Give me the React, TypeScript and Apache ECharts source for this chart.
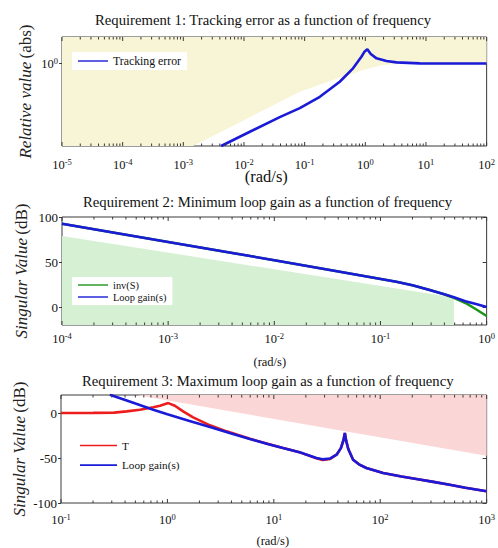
import { useEffect, useRef } from 'react';
import * as echarts from 'echarts';

const FONT = '"Liberation Serif", "Times New Roman", serif';
const AXIS = '#3a3a3a';
const TEXT = '#111';
const BLUE = '#1a1ad8';
const RED = '#ee1d1d';
const GREEN = '#1e961e';

// Requirement 1: tracking error (relative, abs) vs frequency (rad/s)
const trackFreq = [0.0042, 0.0125, 0.0389, 0.0832, 0.178, 0.379, 0.628, 0.863, 0.96, 1.08, 1.23, 1.53, 2.23, 3.26, 7.9, 20, 100];
const trackErr = [0.002, 0.00585, 0.0176, 0.0348, 0.0815, 0.253, 0.697, 1.67, 2.38, 2.92, 2.05, 1.48, 1.21, 1.09, 1.016, 1.0, 1.0];
// allowed tracking error: everything above this curve is shaded
const trackBoundFreq = [1e-5, 0.00144, 0.0125, 0.0832, 0.294, 1.045, 1.96, 3.7, 11.5, 100];
const trackBound = [0.002, 0.002, 0.0175, 0.119, 0.288, 0.66, 0.893, 0.963, 0.985, 0.99];

// Requirement 2: minimum loop gain (dB)
const minFreq = [1e-4, 1e-3, 1e-2, 0.0355, 0.141, 0.2, 0.291, 0.398, 0.492, 0.631, 0.794, 1];
const minLoopGain = [92.5, 72.3, 52, 40.6, 28, 24.2, 19, 14.2, 10.8, 6.5, 3.3, 0];
const invS = [92.5, 72.3, 52, 40.6, 28, 24.2, 19, 14.2, 10.3, 4.5, -2.5, -10];
const minBoundFreq = [1e-4, 0.492, 0.492];
const minBound = [79, 10.5, -20];

// Requirement 3: maximum loop gain (dB)
const maxLoopFreq = [0.288, 0.501, 0.736, 1, 1.585, 2.512, 3.98, 5.96, 8.91, 12.2, 17.8, 25.1, 28.8, 33.9, 38.9, 42.7, 45.2, 46.5, 47.9, 50.1, 55.6, 63.1, 74.1, 106.4, 158.5, 218.8, 316.2, 449.8, 631, 1000];
const maxLoopGain = [20.3, 10.5, 3.7, -1.3, -8.5, -15.5, -22.7, -28.9, -34.6, -38.9, -44, -50, -51.5, -50.5, -46.3, -39, -30, -22.2, -31, -40, -51.9, -57, -61.1, -66.7, -70.5, -73.3, -76.5, -79.7, -83, -87];
const tFreq = [0.1, 0.2, 0.316, 0.414, 0.552, 0.736, 0.851, 1.02, 1.175, 1.406, 1.746, 2.512, 3.6, 5.96, 8.91, 12.2, 17.8, 25.1, 28.8, 33.9, 38.9, 42.7, 45.2, 46.5, 47.9, 50.1, 55.6, 63.1, 74.1, 106.4, 158.5, 218.8, 316.2, 449.8, 631, 1000];
const tGain = [0, 0.1, 0.4, 1.8, 3.7, 6.3, 8.1, 11, 8.1, 1.8, -4.8, -13.7, -20.4, -28.7, -34.5, -38.8, -44, -50.3, -52.3, -51, -46.3, -39, -30, -22.2, -31, -40, -51.9, -57, -61.1, -66.7, -70.5, -73.3, -76.5, -79.7, -83, -87];
const maxBoundFreq = [0.1, 0.513, 1000];
const maxBound = [20, 20, -47.5];

const zip = (xs: number[], ys: number[]) => xs.map((x, i) => [x, ys[i]]);

// decade ticks (major) and 2..9 ticks (minor) of a log axis
function logTicks(lo: number, hi: number) {
  const major: number[] = [];
  const minor: number[] = [];
  for (let e = lo; e <= hi; e++) {
    major.push(Math.pow(10, e));
    if (e < hi) for (let k = 2; k <= 9; k++) minor.push(k * Math.pow(10, e));
  }
  return { major, minor };
}

const pow10 = (v: number) => `{b|10}{s|${Math.round(Math.log10(v))}}`;
const powRich = {
  b: { fontFamily: FONT, fontSize: 12.5, color: TEXT, lineHeight: 14, verticalAlign: 'bottom' },
  s: { fontFamily: FONT, fontSize: 8.5, color: TEXT, lineHeight: 9, verticalAlign: 'top' },
};

function logXAxis(grid: number, lo: number, hi: number, margin: number, nameGap: number, nameSize: number, shiftLeft: number) {
  return {
    gridIndex: grid,
    type: 'log',
    logBase: 10,
    min: Math.pow(10, lo),
    max: Math.pow(10, hi),
    axisLine: { show: false },
    axisTick: { show: false },
    splitLine: { show: false },
    axisLabel: { formatter: pow10, rich: powRich, margin },
    name: '(rad/s)',
    nameLocation: 'middle',
    nameGap,
    nameMoveOverlap: false,
    nameTextStyle: { fontFamily: FONT, fontSize: nameSize, color: TEXT, padding: [0, shiftLeft * 2, 0, 0] },
  };
}

function yName(italic: string, plain: string, size: number) {
  return {
    name: `{i|${italic}} {n|${plain}}`,
    nameLocation: 'middle',
    nameRotate: 90,
    nameMoveOverlap: false,
    nameTextStyle: {
      rich: {
        i: { fontFamily: FONT, fontSize: size, fontStyle: 'italic', color: '#222' },
        n: { fontFamily: FONT, fontSize: size, color: '#222' },
      },
    },
  };
}

function dbYAxis(grid: number, min: number, max: number, labels: number[], nameGap: number) {
  return {
    gridIndex: grid,
    type: 'value',
    min,
    max,
    axisLine: { show: false },
    axisTick: { show: true, inside: false, length: 3, customValues: labels, lineStyle: { color: AXIS } },
    splitLine: { show: false },
    axisLabel: { customValues: labels, margin: 4, fontFamily: FONT, fontSize: 13, color: TEXT },
    ...yName('Singular Value', '(dB)', 17),
    nameGap,
  };
}

function rightYAxis(grid: number, min: number, max: number, labels: number[]) {
  return {
    gridIndex: grid,
    type: 'value',
    position: 'right',
    min,
    max,
    axisLine: { show: false },
    axisTick: { show: true, inside: true, length: 4, customValues: labels, lineStyle: { color: AXIS } },
    axisLabel: { show: false },
    splitLine: { show: false },
  };
}

// x-axis tick marks on the bottom and top edges, drawn over the shaded areas
function tickSeries(xIdx: number, yIdx: number, yLo: number, yHi: number, lo: number, hi: number) {
  const { major, minor } = logTicks(lo, hi);
  const data = [...major.map((v) => [v, yLo, 1]), ...minor.map((v) => [v, yLo, 0])];
  return {
    type: 'custom',
    xAxisIndex: xIdx,
    yAxisIndex: yIdx,
    silent: true,
    clip: false,
    z: 6,
    encode: { x: 0, y: 1 },
    data,
    renderItem: (_p: any, api: any) => {
      const x = api.value(0);
      const len = api.value(2) ? 4 : 2.5;
      const b = api.coord([x, yLo]);
      const t = api.coord([x, yHi]);
      return {
        type: 'group',
        children: [
          { type: 'line', shape: { x1: b[0], y1: b[1], x2: b[0], y2: b[1] - len }, style: { stroke: AXIS, lineWidth: 1 } },
          { type: 'line', shape: { x1: t[0], y1: t[1], x2: t[0], y2: t[1] + len }, style: { stroke: AXIS, lineWidth: 1 } },
        ],
      };
    },
  };
}

function curve(name: string, x: number, y: number, data: number[][], color: string) {
  return {
    name,
    type: 'line',
    xAxisIndex: x,
    yAxisIndex: y,
    data,
    symbol: 'none',
    showSymbol: false,
    clip: true,
    z: 3,
    lineStyle: { color, width: 2.6 },
    itemStyle: { color },
  };
}

function shade(x: number, y: number, data: number[][], color: string, origin: 'start' | 'end') {
  return {
    type: 'line',
    xAxisIndex: x,
    yAxisIndex: y,
    data,
    symbol: 'none',
    silent: true,
    z: 1,
    lineStyle: { width: 0, opacity: 0 },
    areaStyle: { color, opacity: 1, origin },
  };
}

const titleStyle = { fontFamily: FONT, fontSize: 14.7, fontWeight: 'normal', color: TEXT };
const gridBox = { show: true, borderColor: AXIS, borderWidth: 1, backgroundColor: 'transparent' };

// thin line swatches for the legends
const LINE30 = 'path://M0,0H30V1.4H0Z';
const LINE37 = 'path://M0,0H37V1.6H0Z';

const option = {
  animation: false,
  backgroundColor: '#fff',
  title: [
    { text: 'Requirement 1: Tracking error as a function of frequency', left: 95, top: 12, padding: 0, textStyle: titleStyle },
    { text: 'Requirement 2: Minimum loop gain as a function of frequency', left: 83, top: 194, padding: 0, textStyle: titleStyle },
    { text: 'Requirement 3: Maximum loop gain as a function of frequency', left: 82, top: 373, padding: 0, textStyle: titleStyle },
  ],
  legend: [
    {
      data: ['Tracking error'], orient: 'vertical', left: 72, top: 52, padding: [3, 6, 3, 6],
      backgroundColor: '#fff', itemWidth: 30, itemHeight: 13, selectedMode: false,
      icon: LINE30, symbolKeepAspect: true,
      textStyle: { fontFamily: FONT, fontSize: 11.8, color: TEXT },
    },
    {
      data: ['inv(S)', 'Loop gain(s)'], orient: 'vertical', left: 72, top: 277, padding: [3, 6, 3, 6], itemGap: 2,
      backgroundColor: '#fff', itemWidth: 30, itemHeight: 13, selectedMode: false,
      icon: LINE30, symbolKeepAspect: true,
      textStyle: { fontFamily: FONT, fontSize: 10.4, color: TEXT },
    },
    {
      data: ['T', 'Loop gain(s)'], orient: 'vertical', left: 80, top: 440, padding: 0, itemGap: 8.6,
      itemWidth: 37, itemHeight: 13, selectedMode: false,
      icon: LINE37, symbolKeepAspect: true,
      textStyle: { fontFamily: FONT, fontSize: 11.2, color: TEXT },
    },
  ],
  grid: [
    { left: 62, top: 37, width: 425, height: 109, ...gridBox },
    { left: 62, top: 217, width: 425, height: 108, ...gridBox },
    { left: 61, top: 395, width: 426, height: 108, ...gridBox },
  ],
  xAxis: [
    logXAxis(0, -5, 2, 11, 22, 16.5, 8),
    logXAxis(1, -4, 0, 6, 30, 12.5, 4.5),
    logXAxis(2, -1, 3, 9, 31, 12.5, 1),
  ],
  yAxis: [
    {
      gridIndex: 0,
      type: 'log',
      logBase: 10,
      min: 0.002,
      max: 7.4,
      axisLine: { show: false },
      axisTick: { show: true, inside: false, length: 3, customValues: [1], lineStyle: { color: AXIS } },
      splitLine: { show: false },
      axisLabel: { customValues: [1], formatter: pow10, rich: powRich, margin: 4 },
      ...yName('Relative value', '(abs)', 17),
      nameGap: 28,
    },
    dbYAxis(1, -20, 100, [0, 50, 100], 32),
    rightYAxis(1, -20, 100, [0, 50, 100]),
    dbYAxis(2, -100, 20, [-100, -50, 0], 33),
    rightYAxis(2, -100, 20, [-100, -50, 0]),
  ],
  series: [
    shade(0, 0, zip(trackBoundFreq, trackBound), '#f7f5d6', 'end'),
    curve('Tracking error', 0, 0, zip(trackFreq, trackErr), BLUE),
    tickSeries(0, 0, 0.002, 7.4, -5, 2),

    shade(1, 1, zip(minBoundFreq, minBound), '#d6f0d4', 'start'),
    curve('inv(S)', 1, 1, zip(minFreq, invS), GREEN),
    curve('Loop gain(s)', 1, 1, zip(minFreq, minLoopGain), BLUE),
    tickSeries(1, 1, -20, 100, -4, 0),

    shade(2, 3, zip(maxBoundFreq, maxBound), '#fbd6d6', 'end'),
    curve('T', 2, 3, zip(tFreq, tGain), RED),
    curve('Loop gain(s)', 2, 3, zip(maxLoopFreq, maxLoopGain), BLUE),
    tickSeries(2, 3, -100, 20, -1, 3),
  ],
};

export default function App() {
  const ref = useRef<HTMLDivElement>(null);
  useEffect(() => {
    if (!ref.current) return;
    const chart = echarts.init(ref.current, null, { renderer: 'svg' });
    chart.setOption(option as any);
    return () => chart.dispose();
  }, []);
  return (
    <div
      ref={ref}
      style={{ position: 'fixed', left: 0, top: 0, width: 498, height: 548, background: '#fff' }}
    />
  );
}
